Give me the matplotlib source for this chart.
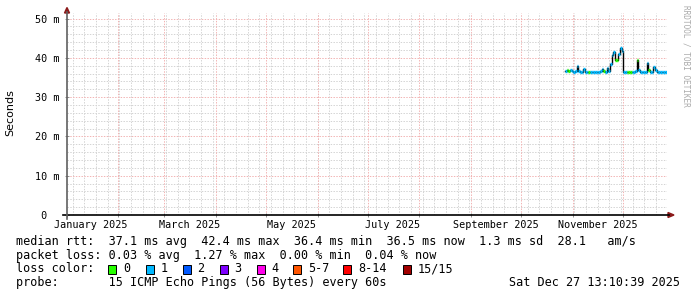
import numpy as np
import pandas as pd
import matplotlib
matplotlib.use('Agg')
import matplotlib.pyplot as plt
from matplotlib.lines import Line2D
from matplotlib.patches import Polygon, Rectangle

W, H = 697, 297

# --- data ---
t_start = pd.Timestamp('2025-01-01 13:10:39')
t_end = pd.Timestamp('2025-12-27 13:10:39')
first_sample = '2025-10-27 08:00'

median_ms = [36.6, 37.0, 36.7, 37.0, 36.6, 36.5, 36.6, 37.9, 36.6, 36.5,
             36.5, 37.2, 36.5, 36.4, 36.4, 36.4, 36.3, 36.4, 36.4, 36.5,
             36.4, 36.6, 37.2, 36.6, 36.5, 37.5, 36.6, 38.3, 40.8, 41.5,
             39.5, 39.5, 41.0, 42.4, 41.8, 36.5, 36.5, 36.5, 36.5, 36.5,
             36.5, 36.5, 36.6, 39.4, 36.8, 36.5, 36.5, 36.5, 36.5, 38.6,
             37.0, 36.5, 36.5, 37.6, 36.8, 36.5, 36.5, 36.5, 36.5, 36.5,
             36.5]
loss_class = [1, 0, 0, 1, 1, 1, 1, 1, 1, 1,
              1, 1, 1, 1, 0, 1, 1, 1, 1, 1,
              1, 1, 1, 0, 1, 1, 1, 1, 1, 1,
              0, 0, 1, 1, 1, 1, 1, 0, 0, 0,
              1, 1, 1, 0, 1, 1, 1, 1, 1, 1,
              0, 1, 1, 1, 1, 1, 1, 1, 1, 1,
              1]

loss_labels = ['0', '1', '2', '3', '4', '5-7', '8-14', '15/15']
loss_colors = ['#26ff00', '#00b8ff', '#0059ff', '#7e00ff', '#ff00ea',
               '#ff5500', '#ff0000', '#a10000']

y_ticks = [0, 10, 20, 30, 40, 50]
y_tick_labels = [' 0  ', '10 m', '20 m', '30 m', '40 m', '50 m']
x_label_months = ['2025-01-01', '2025-03-01', '2025-05-01',
                  '2025-07-01', '2025-09-01', '2025-11-01']

legend_rows = [
    'median rtt:  37.1 ms avg  42.4 ms max  36.4 ms min  36.5 ms now  1.3 ms sd  28.1   am/s',
    'packet loss: 0.03 % avg  1.27 % max  0.00 % min  0.04 % now',
    'loss color:',
    'probe:       15 ICMP Echo Pings (56 Bytes) every 60s',
]
stamp = 'Sat Dec 27 13:10:39 2025'

mono = 'DejaVu Sans Mono'

fig = plt.figure(figsize=(W / 100, H / 100), dpi=100)
fig.patch.set_facecolor('white')
ax = fig.add_axes([67 / W, (H - 215) / H, 600 / W, (215 - 13) / H])
ax.set_facecolor('white')

ax.set_xlim(t_start, t_end)
ax.set_ylim(0, 51.4)
for s in ax.spines.values():
    s.set_visible(False)

# grid
minor_x = pd.date_range('2025-01-05', t_end, freq='7D')
major_x = pd.date_range('2025-02-01', t_end, freq='MS')
dot = dict(lw=0.72, dashes=(1.4, 1.4))
for d in minor_x:
    ax.axvline(d, color='#d4d4d4', zorder=0, **dot)
for v in np.arange(2, 51.4, 2):
    if v % 10:
        ax.axhline(v, color='#d4d4d4', zorder=0, **dot)
for d in major_x:
    ax.axvline(d, color='#f2b4b4', zorder=0.5, **dot)
for v in y_ticks[1:]:
    ax.axhline(v, color='#f2b4b4', zorder=0.5, **dot)

# ticks
ax.set_xticks(list(major_x) + [t_start])
ax.set_xticklabels([])
ax.tick_params(axis='x', direction='inout', length=3, width=0.6, color='#808080')
ax.set_yticks(y_ticks)
ax.set_yticklabels(y_tick_labels, fontfamily=mono, fontsize=7.3)
ax.tick_params(axis='y', direction='inout', length=3, width=0.6, color='#808080', pad=4)

# month labels, centred 15 days after month start (rrdtool style)
for m in x_label_months:
    ts = pd.Timestamp(m)
    ax.text(ts + pd.Timedelta(days=15), -2.6, ts.strftime('%B %Y'),
            ha='center', va='center', fontfamily=mono, fontsize=7.3)

# data
times = pd.date_range(first_sample, periods=len(median_ms), freq='D')
ends = times + pd.Timedelta(days=1)
ax.step(list(times) + [ends[-1]], median_ms + [median_ms[-1]], where='post',
        color='black', lw=1.0, zorder=3)
ax.hlines(median_ms, times, ends, colors=[loss_colors[c] for c in loss_class],
          lw=2.4, zorder=4, capstyle='butt')

# axis lines + arrows (pixel coords)
def fx(x):
    return x / W

def fy(y):
    return 1 - y / H

fig.add_artist(Line2D([fx(63), fx(669)], [fy(215), fy(215)], color='black', lw=1.2))
fig.add_artist(Line2D([fx(67), fx(67)], [fy(219), fy(12)], color='#606060', lw=1.2))
fig.add_artist(Polygon([(fx(668), fy(212.5)), (fx(674), fy(215)), (fx(668), fy(217.5))],
                       closed=True, color='#8b1a1a'))
fig.add_artist(Polygon([(fx(64.5), fy(13)), (fx(67), fy(7.5)), (fx(69.5), fy(13))],
                       closed=True, color='#8b1a1a'))

# side texts
fig.text(fx(10), fy(113), 'Seconds', rotation=90, ha='center', va='center',
         fontfamily='DejaVu Sans', fontsize=8)
fig.text(fx(686), fy(5), 'RRDTOOL / TOBI OETIKER', rotation=270, ha='center', va='top',
         fontfamily=mono, fontsize=5.6, color='#aaaaaa')

# legend
row_y = [241.7, 255.3, 269, 282.7]
for txt, y in zip(legend_rows, row_y):
    fig.text(fx(16), fy(y), txt, ha='left', va='center', fontfamily=mono, fontsize=8.5)
fig.text(fx(680), fy(row_y[3]), stamp, ha='right', va='center', fontfamily=mono, fontsize=8.5)

box_x = [108, 145.5, 182.5, 219.5, 256.5, 293, 343, 402.5]
for bx, lab, col in zip(box_x, loss_labels, loss_colors):
    fig.add_artist(Rectangle((fx(bx), fy(row_y[2] + 4.5)), 8 / W, 9 / H,
                             facecolor=col, edgecolor='black', lw=0.7))
    fig.text(fx(bx + 15), fy(row_y[2]), lab, ha='left', va='center',
             fontfamily=mono, fontsize=8.5)

fig.savefig('out.png', dpi=100)
